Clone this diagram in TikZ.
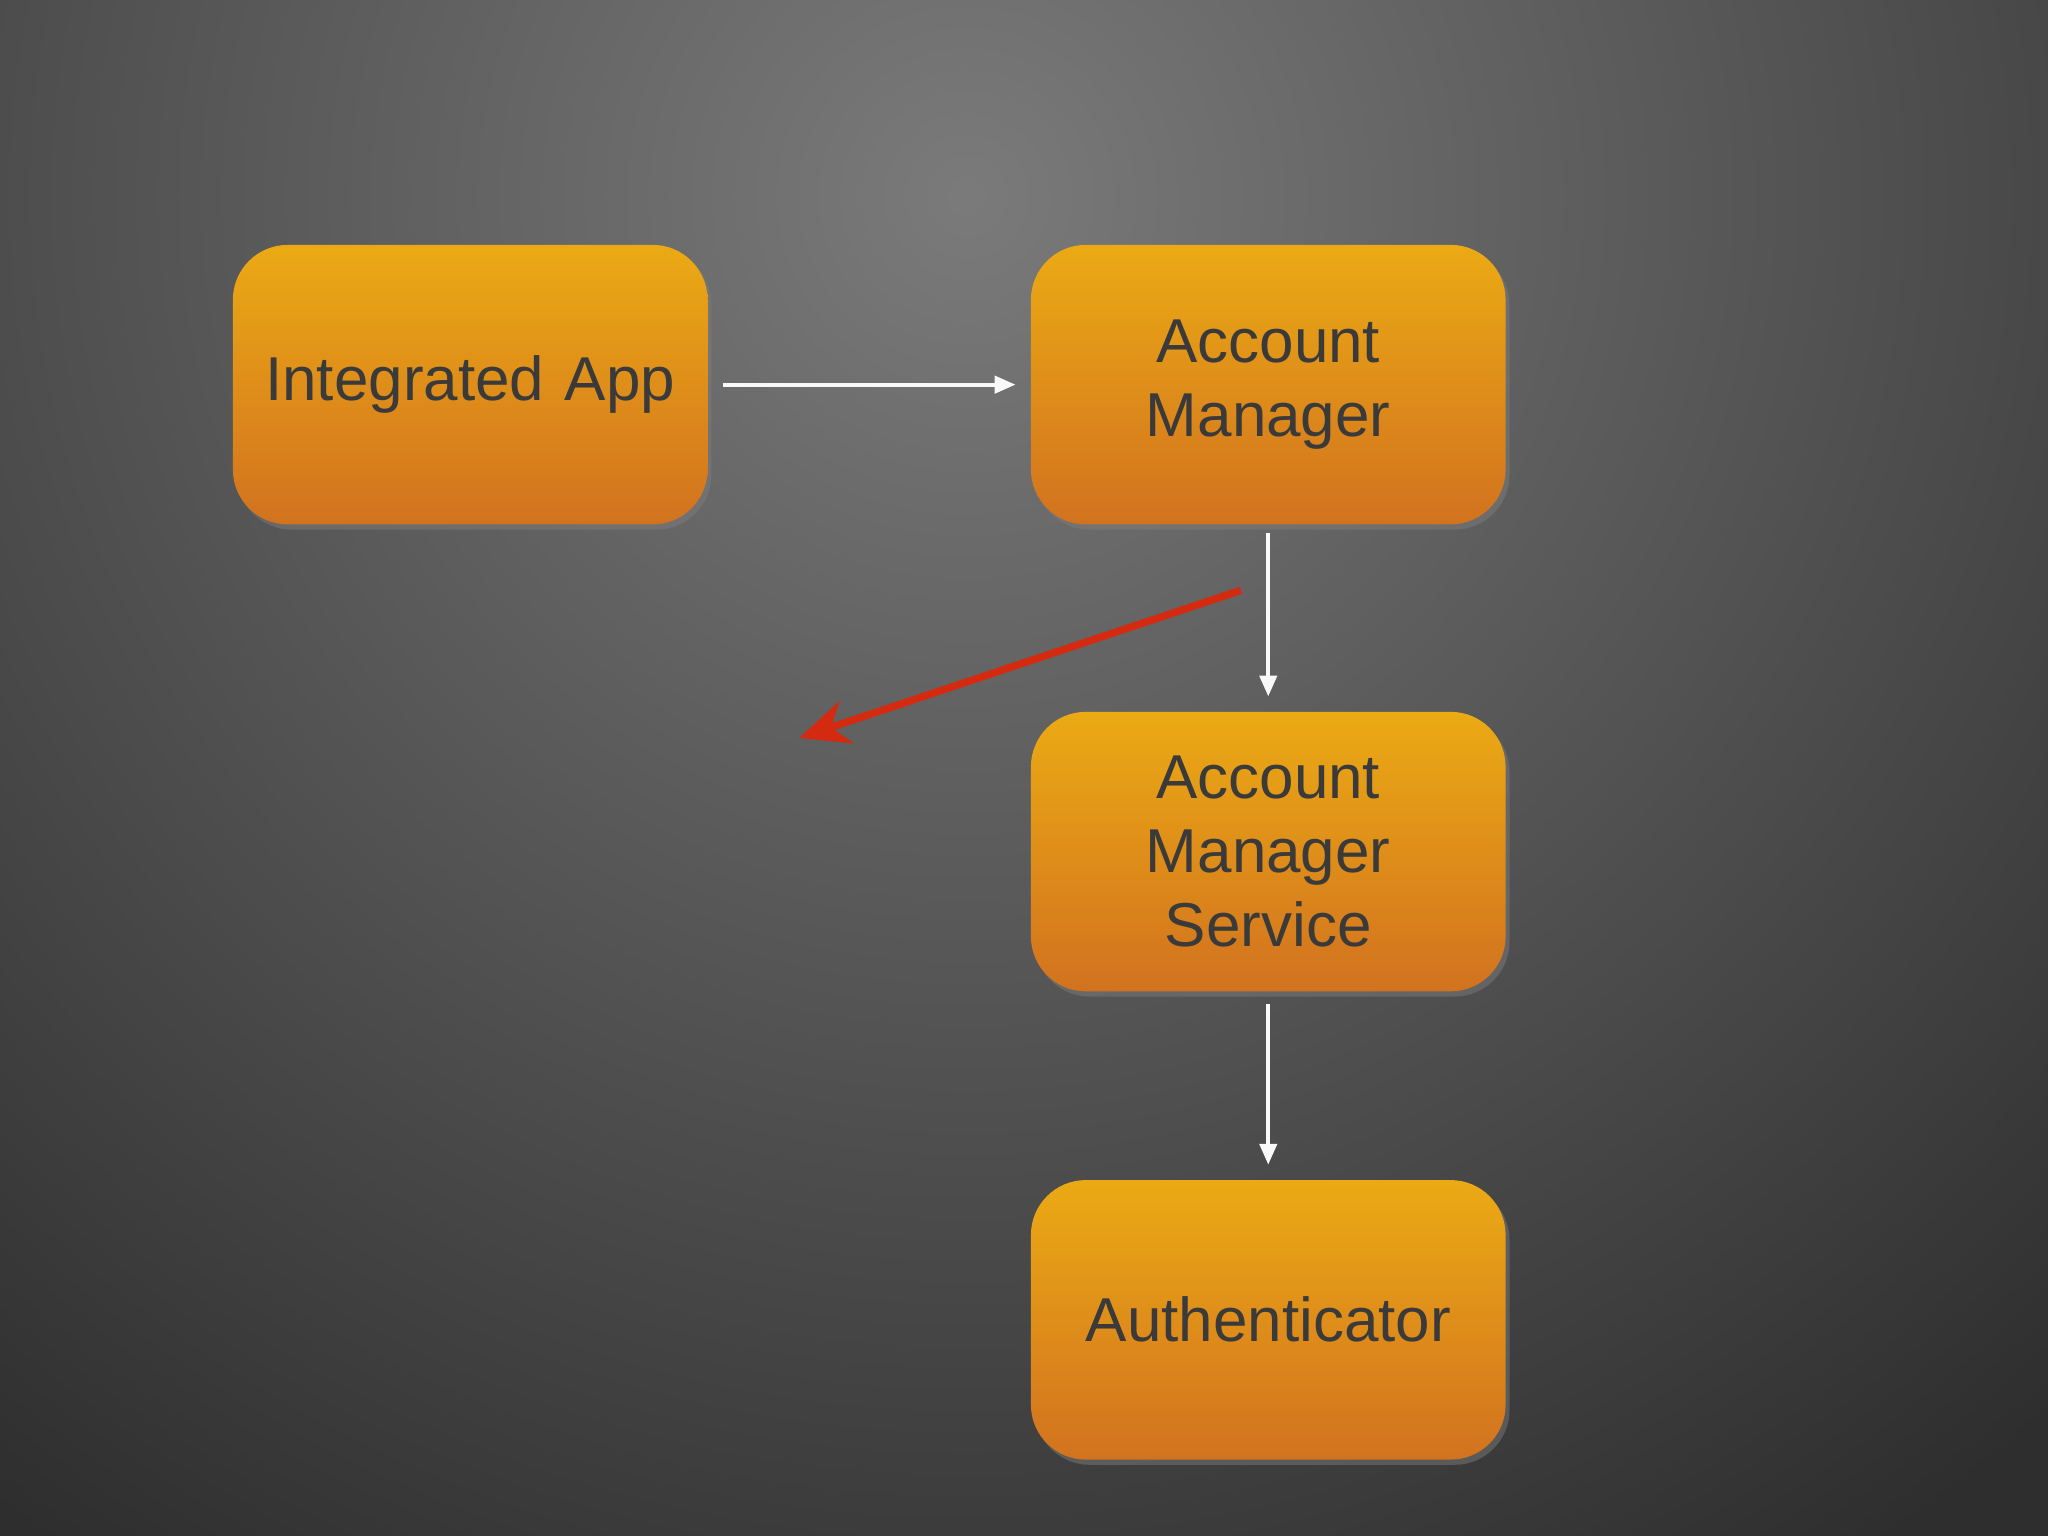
\documentclass[tikz,border=0pt]{standalone}
\usepackage{fontspec}
\setmainfont{Liberation Sans}
\usetikzlibrary{arrows.meta,shadows}
\definecolor{boxtop}{HTML}{EBAA14}
\definecolor{boxbot}{HTML}{D2721F}
\definecolor{txt}{HTML}{3A3A3A}
\definecolor{redarr}{HTML}{D42A10}
\tikzset{
  box/.style={rounded corners=0.42cm, top color=boxtop, bottom color=boxbot, draw=none,
    minimum width=3.58cm, minimum height=2.14cm, text width=3.4cm, align=center,
    text=txt, font=\fontsize{13.5}{16.2}\selectfont,
    drop shadow={opacity=0.45, shadow xshift=0.03cm, shadow yshift=-0.04cm}},
  wline/.style={draw=white!95!gray, line width=0.9pt, -{Triangle[length=0.16cm,width=0.13cm]}},
}
\begin{document}
\begin{tikzpicture}
\useasboundingbox (0,0) rectangle (15.68,-11.76);
\begin{scope}
\clip (0,0) rectangle (15.68,-11.76);
\fill[black!82] (0,0) rectangle (15.68,-11.76);
\shade[inner color=black!52, outer color=black!82] (7.4,-1.5) circle (12.5cm);
\end{scope}
\node[box] (ia) at (3.60,-2.945) {Integrated App};
\node[box] (am) at (9.71,-2.945) {Account\\Manager};
\node[box] (ams) at (9.71,-6.52) {Account\\Manager\\Service};
\node[box] (au) at (9.71,-10.105) {Authenticator};
\draw[wline] ([xshift=0.11cm]ia.east) -- ([xshift=-0.11cm]am.west);
\draw[wline] ([yshift=-0.06cm]am.south) -- ([yshift=0.11cm]ams.north);
\draw[wline] ([yshift=-0.09cm]ams.south) -- ([yshift=0.11cm]au.north);
\coordinate (r1) at (9.50,-4.52);
\coordinate (r2) at (6.12,-5.65);
\draw[redarr, line width=1.6pt, -{Stealth[length=0.38cm,width=0.34cm]}] (r1) -- (r2);
\end{tikzpicture}
\end{document}
